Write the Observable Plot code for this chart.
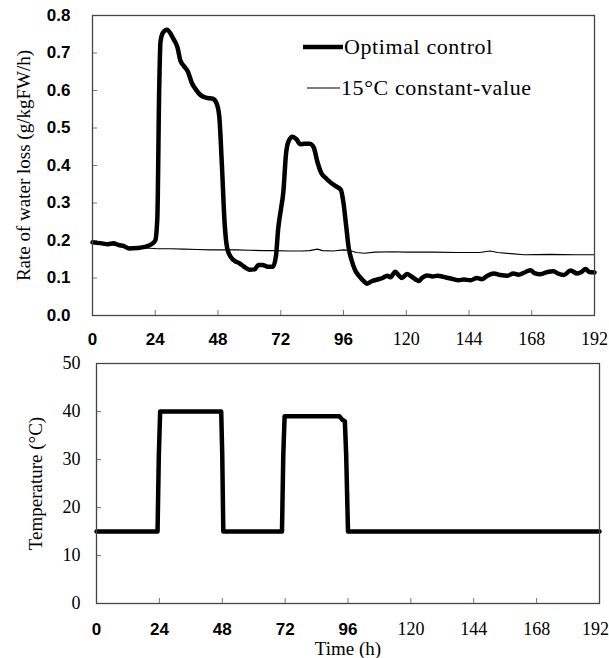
<!DOCTYPE html>
<html><head><meta charset="utf-8">
<script src="https://cdn.jsdelivr.net/npm/d3@7"></script>
<script src="https://cdn.jsdelivr.net/npm/@observablehq/plot@0.6"></script>
<style>
html,body{margin:0;padding:0;background:#fff;}
#wrap{position:relative;width:609px;height:658px;overflow:hidden;}
#wrap svg{display:block;}
.leg{position:absolute;display:flex;align-items:center;height:26px;font-family:"Liberation Serif","Times New Roman",serif;font-size:22px;letter-spacing:0.6px;color:#000;white-space:nowrap;}
.leg svg{display:block;}
</style></head><body><div id="wrap"></div>
<script>
// ---- data ----
const timeTicks = [0, 24, 48, 72, 96, 120, 144, 168, 192];
const rateTicks = [0, 0.1, 0.2, 0.3, 0.4, 0.5, 0.6, 0.7, 0.8];
const tempTicks = [0, 10, 20, 30, 40, 50];
const seriesNames = ["Optimal control", "15°C constant-value"];
const yTitleTop = "Rate of water loss (g/kgFW/h)";
const yTitleBottom = "Temperature (°C)";
const xTitle = "Time (h)";

const optTime = [0,3,6,8,10,12,14,17,20,22.5,24,24.8,25.5,26,27,28.5,30,31,32.5,33.6,35,36.5,38,39.5,41,42.5,44,46,47.5,48.5,49.5,50.5,51.5,53,54.5,56,58,60,62,63.5,65,67,69,70.2,71,72,73,74,75,76.5,78,79.5,81,83,84.5,86,87.5,89,91,93,95,96,97,98,99,100.5,102,104,105,107,109,111,112.7,114,115.8,117,118.4,120.3,122,124.8,126,128,130,132,134.3,136,138,140,142,144.6,147,149,151,153.5,156,158.6,161,163,165,167.5,169,171.3,174,176.4,178,180.3,182.8,185.4,187,188.6,190,192];
const optRate = [0.195,0.193,0.190,0.193,0.188,0.185,0.179,0.180,0.183,0.190,0.200,0.260,0.600,0.730,0.755,0.762,0.750,0.737,0.715,0.680,0.665,0.650,0.620,0.603,0.590,0.583,0.580,0.578,0.565,0.530,0.400,0.250,0.180,0.155,0.145,0.140,0.130,0.122,0.123,0.135,0.135,0.130,0.130,0.160,0.230,0.280,0.330,0.430,0.465,0.477,0.470,0.457,0.458,0.458,0.450,0.410,0.380,0.368,0.355,0.345,0.335,0.300,0.240,0.180,0.150,0.120,0.105,0.090,0.085,0.092,0.096,0.100,0.106,0.102,0.117,0.108,0.100,0.111,0.104,0.092,0.100,0.107,0.104,0.106,0.103,0.100,0.097,0.094,0.096,0.094,0.100,0.097,0.106,0.112,0.108,0.106,0.112,0.109,0.114,0.121,0.113,0.110,0.116,0.118,0.112,0.108,0.120,0.112,0.116,0.124,0.116,0.115];

const constTime = [0,5,10,15,20,25,30,35,40,45,50,55,60,65,70,75,80,83,86,88,92,96,98,101,104,108,115,120,130,140,148,152,155,160,165,175,185,192];
const constRate = [0.193,0.190,0.186,0.182,0.180,0.178,0.178,0.177,0.176,0.175,0.175,0.175,0.174,0.173,0.173,0.172,0.172,0.173,0.177,0.173,0.172,0.175,0.174,0.168,0.166,0.169,0.170,0.169,0.169,0.168,0.168,0.172,0.168,0.165,0.162,0.163,0.162,0.162];

const tempTime = [0,23.3,23.8,24.3,47.6,48.0,48.4,70.8,71.3,71.8,92.7,93.8,94.8,95.3,96.0,192];
const tempValue = [15,15,31,40,40,31,15,15,31,39,39,38.3,38,31,15,15];

// ---- build ----
const serif = "'Liberation Serif','Times New Roman',serif";
const sans = "'Liberation Sans',Arial,sans-serif";
const opt = optTime.map((t, i) => ({t, v: optRate[i]}));
const cst = constTime.map((t, i) => ({t, v: constRate[i]}));
const tmp = tempTime.map((t, i) => ({t, v: tempValue[i]}));

const chartTop = Plot.plot({
  width: 609, height: 345,
  marginTop: 15, marginBottom: 30, marginLeft: 92, marginRight: 15,
  style: {background: "#fff", color: "#000", overflow: "visible"},
  x: {domain: [0, 192]},
  y: {domain: [0, 0.8]},
  marks: [
    Plot.axisX({ticks: timeTicks, tickSize: -5, tickPadding: 22, fontSize: 18, label: null, tickFormat: d => String(d), stroke: "#777"}),
    Plot.axisY({ticks: rateTicks, tickSize: -5, tickPadding: 27, fontSize: 18, label: null, tickFormat: d => d.toFixed(1), stroke: "#777"}),
    Plot.line(cst, {x: "t", y: "v", stroke: "#000", strokeWidth: 1.2}),
    Plot.line(opt, {x: "t", y: "v", stroke: "#000", strokeWidth: 4.5, curve: "monotone-x", strokeLinejoin: "round"}),
    Plot.frame({stroke: "#444", strokeWidth: 1.3}),
    Plot.text([yTitleTop], {frameAnchor: "left", textAnchor: "middle", lineAnchor: "middle", rotate: -90, dx: -69, fontSize: 19, fill: "#000"})
  ]
});

const chartBottom = Plot.plot({
  width: 609, height: 313,
  marginTop: 18, marginBottom: 55, marginLeft: 96, marginRight: 10,
  style: {background: "#fff", color: "#000", overflow: "visible"},
  x: {domain: [0, 192]},
  y: {domain: [0, 50]},
  marks: [
    Plot.axisX({ticks: timeTicks, tickSize: -5, tickPadding: 24, fontSize: 18, label: null, tickFormat: d => String(d), stroke: "#777"}),
    Plot.axisY({ticks: tempTicks, tickSize: -5, tickPadding: 21, fontSize: 18, label: null, tickFormat: d => String(d), stroke: "#777"}),
    Plot.line(tmp, {x: "t", y: "v", stroke: "#000", strokeWidth: 4.5, strokeLinejoin: "round"}),
    Plot.frame({stroke: "#444", strokeWidth: 1.3}),
    Plot.text([yTitleBottom], {frameAnchor: "left", textAnchor: "middle", lineAnchor: "middle", rotate: -90, dx: -61, fontSize: 19, fill: "#000"}),
    Plot.text([xTitle], {frameAnchor: "bottom", textAnchor: "middle", lineAnchor: "middle", dy: 45, fontSize: 19, fill: "#000"})
  ]
});

const wrap = document.getElementById("wrap");
wrap.appendChild(chartTop);
wrap.appendChild(chartBottom);

// typography: serif everywhere, with the bold sans digits the reference shows on part of the axes
d3.select(wrap).selectAll("svg text").style("font-family", serif);
d3.select(chartTop).selectAll('g[aria-label="y-axis tick label"] text')
  .style("font-family", sans).style("font-weight", "bold").style("font-size", "17px");
d3.select(wrap).selectAll('g[aria-label="x-axis tick label"] text').each(function () {
  if (+this.textContent <= 96) {
    d3.select(this).style("font-family", sans).style("font-weight", "bold").style("font-size", "17px");
  }
});
// keep the last bottom tick label inside the page edge
d3.select(chartBottom).selectAll('g[aria-label="x-axis tick label"] text')
  .filter(function () { return this.textContent === String(timeTicks[timeTicks.length - 1]); })
  .attr("dx", -4);

function legendItem(name, sw, left, topPx, w) {
  const d = document.createElement("div");
  d.className = "leg";
  d.style.left = left + "px";
  d.style.top = topPx + "px";
  d.innerHTML = `<svg width="${w}" height="10"><line x1="0" x2="${w}" y1="5" y2="5" stroke="#000" stroke-width="${sw}"/></svg><span style="margin-left:1px">${name}</span>`;
  wrap.appendChild(d);
}
legendItem(seriesNames[0], 4.5, 303, 34, 40);
legendItem(seriesNames[1], 1.2, 307, 75, 33);
</script></body></html>
